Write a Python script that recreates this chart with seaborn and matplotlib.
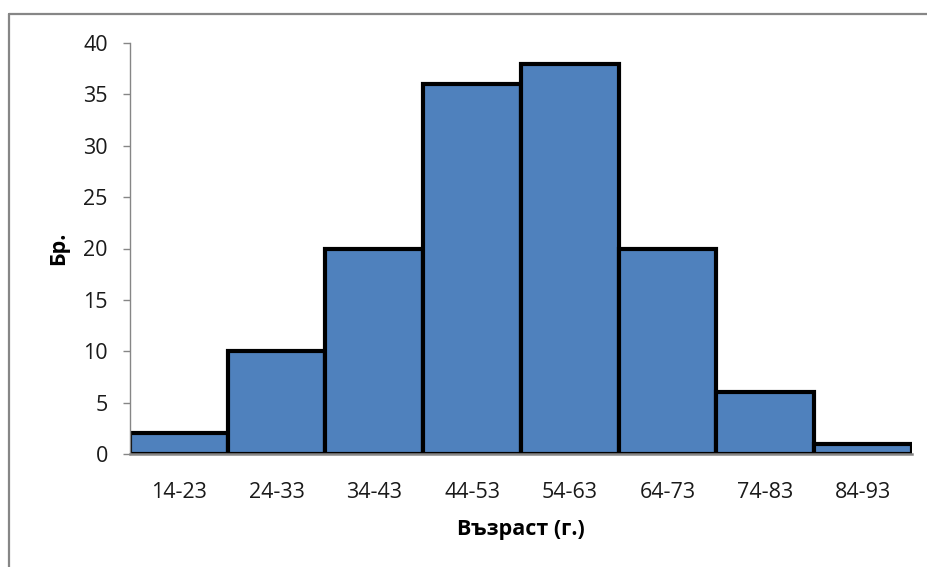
import matplotlib
matplotlib.use("Agg")
import matplotlib.pyplot as plt
from matplotlib.lines import Line2D
import seaborn as sns
import pandas as pd

# Age groups and counts
age_groups = ["14-23", "24-33", "34-43", "44-53", "54-63", "64-73", "74-83", "84-93"]
counts = [2, 10, 20, 36, 38, 20, 6, 1]
y_ticks = [0, 5, 10, 15, 20, 25, 30, 35, 40]

sns.set_theme(style="white")
plt.rcParams["font.family"] = ["Open Sans", "DejaVu Sans"]

df = pd.DataFrame({"age": age_groups, "count": counts})

fig = plt.figure(figsize=(9.28, 5.67), dpi=100)
ax = fig.add_axes([130 / 928, 1 - 454 / 567, (912 - 130) / 928, (454 - 43) / 567])

sns.barplot(data=df, x="age", y="count", ax=ax, color="#4F81BD", saturation=1,
            width=1.0, edgecolor="black", linewidth=3)

ax.set_xlim(-0.5, len(age_groups) - 0.5)
ax.set_ylim(0, 40)
ax.set_yticks(y_ticks)

gray = "#868686"
for side in ("top", "right"):
    ax.spines[side].set_visible(False)
ax.spines["left"].set_color(gray)
ax.spines["left"].set_linewidth(1.0)
ax.spines["bottom"].set_color(gray)
ax.spines["bottom"].set_linewidth(1.8)
ax.spines["bottom"].set_zorder(5)

ax.tick_params(axis="y", which="major", direction="out", length=5, width=1,
               color=gray, pad=11, labelsize=15.5, labelcolor="#1a1a1a", left=True)
ax.tick_params(axis="x", which="major", length=0, pad=20, labelsize=15.5,
               labelcolor="#1a1a1a")

ax.set_xlabel("Възраст (г.)", fontsize=15.5, fontweight="bold", labelpad=12, color="black")
ax.set_ylabel("Бр.", fontsize=15.5, fontweight="bold", labelpad=10, color="black")

# Chart area border (left and top edges)
fig.add_artist(Line2D([9.5 / 928, 9.5 / 928], [0, 1 - 14 / 567], transform=fig.transFigure,
                      color=gray, linewidth=1.6))
fig.add_artist(Line2D([9.5 / 928, 1], [1 - 14 / 567, 1 - 14 / 567], transform=fig.transFigure,
                      color=gray, linewidth=1.6))

fig.savefig("out.png", dpi=100, facecolor="white")
